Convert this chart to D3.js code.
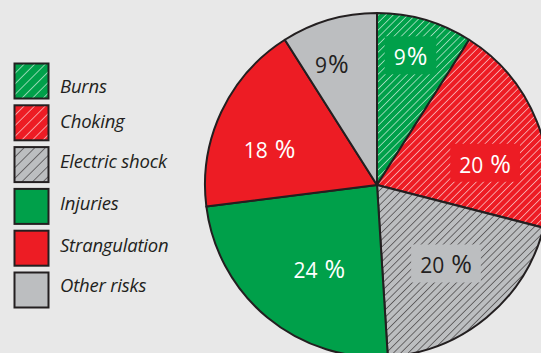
<!DOCTYPE html>
<html>
<head>
<meta charset="utf-8">
<script src="https://cdn.jsdelivr.net/npm/d3@7/dist/d3.min.js"></script>
<style>
  html, body { margin: 0; padding: 0; background: #e8e8e8; }
  svg { display: block; }
</style>
</head>
<body>
<svg id="chart" width="541" height="353"></svg>
<script>
// Risk categories and their share (percent)
const categories = ["Burns", "Choking", "Electric shock", "Injuries", "Strangulation", "Other risks"];
const values = [9, 20, 20, 24, 18, 9];
const pctSuffix = ["%", " %", " %", " %", " %", "%"];
const hatched = [true, true, true, false, false, false];

// Appearance
const baseColors = ["#00a04a", "#ed1c24", "#bcbec0", "#00a04a", "#ed1c24", "#bcbec0"];
const hatchColors = ["#ffffff", "#ffffff", "#231f20", null, null, null];
const textColors = ["#ffffff", "#ffffff", "#231f20", "#ffffff", "#ffffff", "#231f20"];
// label placement: radius and angular nudge (degrees) from the slice middle
const labelRadius = [132, 110, 106, 103, 113, 128];
const labelNudge = [-1.5, 11, -1, -5.5, -7, -4.5];
const labelBg = [true, true, true, false, false, false];
// legend text baseline below each swatch top
const legendBaseline = [30, 23, 21, 22, 22, 20];

const W = 541, H = 353;
const cx = 377, cy = 185, R = 172;
const stroke = "#231f20";

const svg = d3.select("#chart");
svg.append("rect").attr("width", W).attr("height", H).attr("fill", "#e8e8e8");

const defs = svg.append("defs");
function makePattern(id, bg, line, step, width) {
  const p = defs.append("pattern")
    .attr("id", id)
    .attr("patternUnits", "userSpaceOnUse")
    .attr("width", step).attr("height", step)
    .attr("patternTransform", "rotate(45)");
  p.append("rect").attr("width", step).attr("height", step).attr("fill", bg);
  p.append("line").attr("x1", 0).attr("y1", 0).attr("x2", 0).attr("y2", step)
    .attr("stroke", line).attr("stroke-width", width);
}
categories.forEach((c, i) => {
  if (hatched[i]) {
    makePattern("hatch" + i, baseColors[i], hatchColors[i], 5.2, 1.1);
    makePattern("lhatch" + i, baseColors[i], hatchColors[i], 7.5, 1.1);
  }
});
const fillFor = (i, legend) => hatched[i] ? `url(#${legend ? "lhatch" : "hatch"}${i})` : baseColors[i];

// Pie
const pie = d3.pie().value(d => d).sort(null).startAngle(0).endAngle(2 * Math.PI);
const arcs = pie(values);
const arc = d3.arc().innerRadius(0).outerRadius(R);

const g = svg.append("g").attr("transform", `translate(${cx},${cy})`);
g.selectAll("path.slice")
  .data(arcs)
  .join("path")
  .attr("class", "slice")
  .attr("d", arc)
  .attr("fill", (d, i) => fillFor(i, false))
  .attr("stroke", stroke)
  .attr("stroke-width", 2)
  .attr("stroke-linejoin", "round");

// Percentage labels
const labels = g.selectAll("g.lbl")
  .data(arcs)
  .join("g")
  .attr("class", "lbl")
  .attr("transform", (d, i) => {
    const a = (d.startAngle + d.endAngle) / 2 + labelNudge[i] * Math.PI / 180;
    const r = labelRadius[i];
    return `translate(${r * Math.sin(a)},${-r * Math.cos(a)})`;
  });

labels.each(function (d, i) {
  const sel = d3.select(this);
  const bg = sel.append("rect");
  const spaced = pctSuffix[i].startsWith(" ");
  const t = sel.append("text")
    .attr("text-anchor", "middle")
    .attr("y", 8)
    .attr("fill", textColors[i])
    .style("font-family", "'Open Sans', 'Noto Sans', sans-serif")
    .style("font-size", "21px");
  t.append("tspan").text(values[i]);
  t.append("tspan")
    .attr("dx", spaced ? 7 : 1)
    .style("font-size", "25px")
    .text(pctSuffix[i].trim());
  if (labelBg[i]) {
    const b = t.node().getBBox();
    bg.attr("x", b.x - 9).attr("y", b.y - 2)
      .attr("width", b.width + 18).attr("height", b.height + 4)
      .attr("fill", baseColors[i]);
  } else {
    bg.remove();
  }
});

// Legend
const legend = svg.append("g").attr("transform", "translate(14,63)");
const rows = legend.selectAll("g.row")
  .data(categories)
  .join("g")
  .attr("class", "row")
  .attr("transform", (d, i) => `translate(0,${i * 41.8})`);
rows.append("rect")
  .attr("x", 0.5).attr("y", 0.5)
  .attr("width", 34).attr("height", 35)
  .attr("fill", (d, i) => fillFor(i, true))
  .attr("stroke", stroke)
  .attr("stroke-width", 2);
rows.append("text")
  .attr("x", 46)
  .attr("y", (d, i) => legendBaseline[i])
  .attr("fill", "#231f20")
  .style("font-family", "'Open Sans', 'Noto Sans', sans-serif")
  .style("font-style", "italic")
  .style("font-size", "18.5px")
  .style("letter-spacing", "-0.2px")
  .text(d => d);
</script>
</body>
</html>
